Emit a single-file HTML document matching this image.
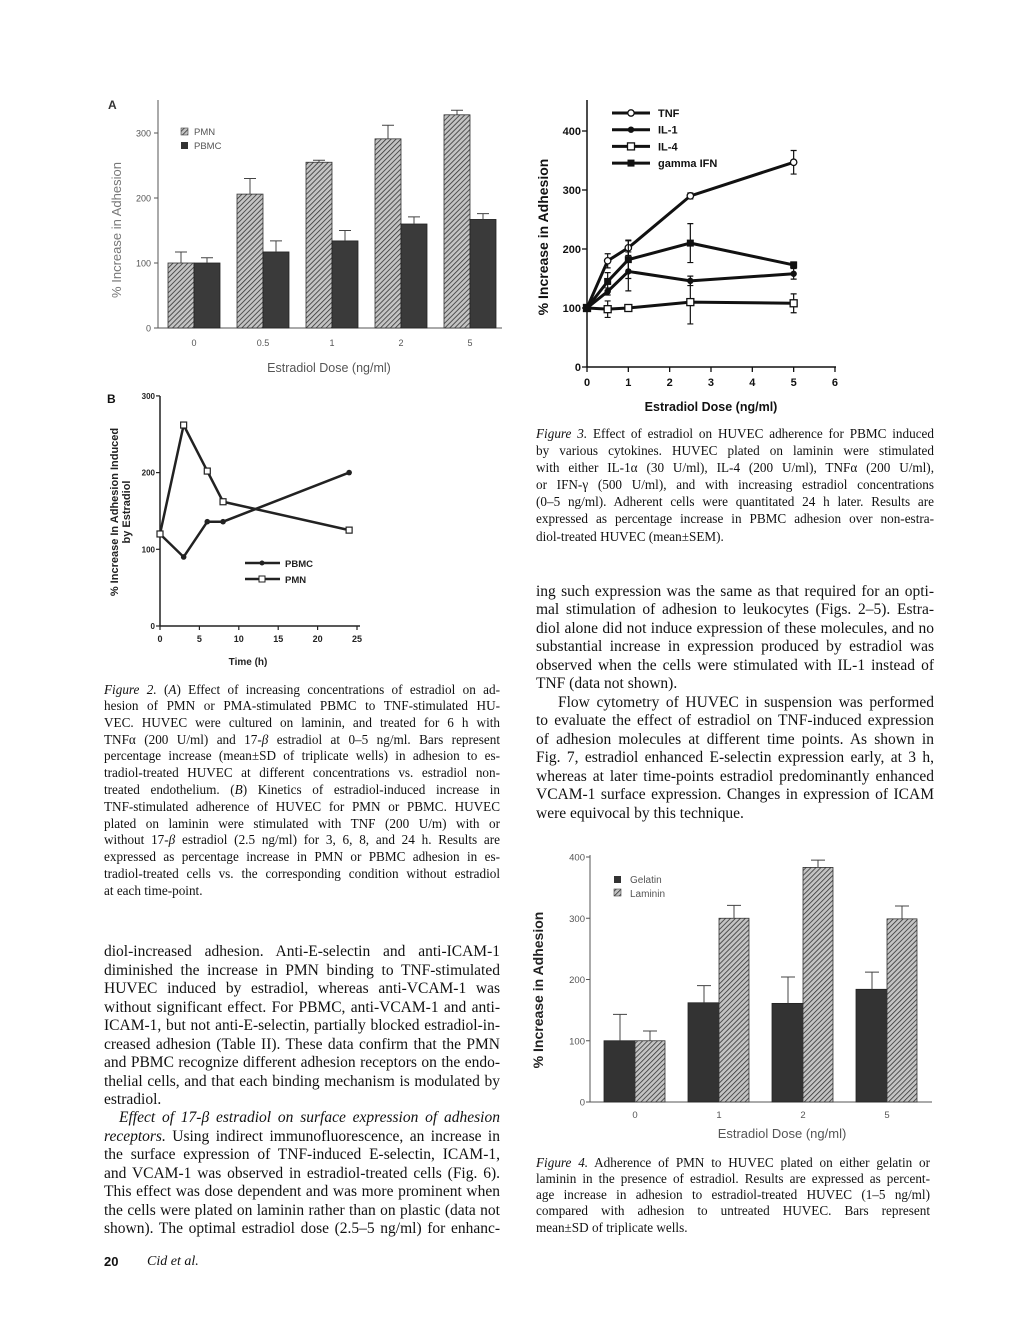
<!DOCTYPE html>
<html><head><meta charset="utf-8">
<style>
html,body{margin:0;padding:0;background:#fff;}
#page{position:relative;width:1020px;height:1320px;overflow:hidden;background:#fff;}
.ln{position:absolute;white-space:nowrap;text-align:justify;text-align-last:justify;color:#111;font-family:"Liberation Serif",serif;}
.body{font-size:15.5px;line-height:18px;height:18px;}
.cap{font-size:13.2px;line-height:16px;height:16px;}
.L{left:104px;width:396px;}
.R{left:536px;width:398px;}
.last{text-align-last:left;}
svg{position:absolute;left:0;top:0;}
svg text{font-family:"Liberation Sans",sans-serif;}
</style></head>
<body><div id="page">
<svg id="charts" width="1020" height="1320">
<defs>
<pattern id="hatch" width="3.5" height="3.5" patternUnits="userSpaceOnUse" patternTransform="rotate(45)">
<rect width="3.5" height="3.5" fill="#c4c4c4"/><line x1="0" y1="0" x2="0" y2="3.5" stroke="#333" stroke-width="1.6"/>
</pattern>
</defs>
<g>
<text x="108" y="109" font-size="12" font-weight="bold" fill="#333">A</text>
<line x1="158" y1="100" x2="158" y2="328" stroke="#555" stroke-width="1"/>
<line x1="158" y1="328" x2="502" y2="328" stroke="#555" stroke-width="1"/>
<text transform="translate(121,230) rotate(-90)" text-anchor="middle" font-size="13" fill="#777">% Increase in Adhesion</text>
<text x="329" y="372" text-anchor="middle" font-size="12.5" fill="#555">Estradiol Dose (ng/ml)</text>
<rect x="181" y="128" width="7" height="7" fill="url(#hatch)" stroke="#444" stroke-width="0.6"/>
<text x="194" y="135" font-size="9.5" fill="#555">PMN</text>
<rect x="181" y="142" width="7" height="7" fill="#333"/>
<text x="194" y="149" font-size="9.5" fill="#555">PBMC</text>
</g>
<g>
<text x="107" y="403" font-size="12" font-weight="bold" fill="#111">B</text>
<line x1="160" y1="396" x2="160" y2="626" stroke="#222" stroke-width="1.5"/>
<line x1="160" y1="626" x2="360" y2="626" stroke="#222" stroke-width="1.5"/>
<text transform="translate(118,512) rotate(-90)" text-anchor="middle" font-size="11" font-weight="bold" fill="#222">% Increase In Adhesion Induced</text>
<text transform="translate(130,512) rotate(-90)" text-anchor="middle" font-size="11" font-weight="bold" fill="#222">by Estradiol</text>
<text x="248" y="665" text-anchor="middle" font-size="10" font-weight="bold" fill="#222">Time (h)</text>
<line x1="245" y1="563" x2="280" y2="563" stroke="#222" stroke-width="2.5"/>
<circle cx="262" cy="563" r="2.5" fill="#222"/>
<text x="285" y="567" font-size="9.5" font-weight="bold" fill="#222">PBMC</text>
<line x1="245" y1="579" x2="280" y2="579" stroke="#222" stroke-width="2.5"/>
<rect x="259" y="576" width="6" height="6" fill="#fff" stroke="#222"/>
<text x="285" y="583" font-size="9.5" font-weight="bold" fill="#222">PMN</text>
</g>
<g>
<line x1="587" y1="100" x2="587" y2="367" stroke="#111" stroke-width="1.5"/>
<line x1="587" y1="367" x2="836" y2="367" stroke="#111" stroke-width="1.5"/>
<text transform="translate(548,237) rotate(-90)" text-anchor="middle" font-size="14" font-weight="bold" fill="#111">% Increase in Adhesion</text>
<text x="711" y="411" text-anchor="middle" font-size="12.5" font-weight="bold" fill="#111">Estradiol Dose (ng/ml)</text>
</g>
<g>
<line x1="590" y1="855" x2="590" y2="1102" stroke="#555" stroke-width="1"/>
<line x1="590" y1="1102" x2="932" y2="1102" stroke="#555" stroke-width="1"/>
<text transform="translate(543,990) rotate(-90)" text-anchor="middle" font-size="14" font-weight="bold" fill="#222">% Increase in Adhesion</text>
<text x="782" y="1138" text-anchor="middle" font-size="13" fill="#555">Estradiol Dose (ng/ml)</text>
<rect x="614" y="876" width="7" height="7" fill="#333"/>
<text x="630" y="883" font-size="10" fill="#555">Gelatin</text>
<rect x="614" y="889" width="7" height="7" fill="url(#hatch)" stroke="#444" stroke-width="0.6"/>
<text x="630" y="897" font-size="10" fill="#555">Laminin</text>
</g>
</svg>

<div class="ln cap L" style="top:682px"><i>Figure 2.</i> (<i>A</i>) Effect of increasing concentrations of estradiol on ad-</div>
<div class="ln cap L" style="top:698px">hesion of PMN or PMA-stimulated PBMC to TNF-stimulated HU-</div>
<div class="ln cap L" style="top:715px">VEC. HUVEC were cultured on laminin, and treated for 6 h with</div>
<div class="ln cap L" style="top:732px">TNFα (200 U/ml) and 17-<i>β</i> estradiol at 0–5 ng/ml. Bars represent</div>
<div class="ln cap L" style="top:748px">percentage increase (mean±SD of triplicate wells) in adhesion to es-</div>
<div class="ln cap L" style="top:765px">tradiol-treated HUVEC at different concentrations vs. estradiol non-</div>
<div class="ln cap L" style="top:782px">treated endothelium. (<i>B</i>) Kinetics of estradiol-induced increase in</div>
<div class="ln cap L" style="top:799px">TNF-stimulated adherence of HUVEC for PMN or PBMC. HUVEC</div>
<div class="ln cap L" style="top:816px">plated on laminin were stimulated with TNF (200 U/m) with or</div>
<div class="ln cap L" style="top:832px">without 17-<i>β</i> estradiol (2.5 ng/ml) for 3, 6, 8, and 24 h. Results are</div>
<div class="ln cap L" style="top:849px">expressed as percentage increase in PMN or PBMC adhesion in es-</div>
<div class="ln cap L" style="top:866px">tradiol-treated cells vs. the corresponding condition without estradiol</div>
<div class="ln cap L last" style="top:883px">at each time-point.</div>

<div class="ln body L" style="top:943px">diol-increased adhesion. Anti-E-selectin and anti-ICAM-1</div>
<div class="ln body L" style="top:962px">diminished the increase in PMN binding to TNF-stimulated</div>
<div class="ln body L" style="top:980px">HUVEC induced by estradiol, whereas anti-VCAM-1 was</div>
<div class="ln body L" style="top:999px">without significant effect. For PBMC, anti-VCAM-1 and anti-</div>
<div class="ln body L" style="top:1017px">ICAM-1, but not anti-E-selectin, partially blocked estradiol-in-</div>
<div class="ln body L" style="top:1036px">creased adhesion (Table II). These data confirm that the PMN</div>
<div class="ln body L" style="top:1054px">and PBMC recognize different adhesion receptors on the endo-</div>
<div class="ln body L" style="top:1073px">thelial cells, and that each binding mechanism is modulated by</div>
<div class="ln body L last" style="top:1091px">estradiol.</div>
<div class="ln body L" style="top:1109px;left:119px;width:381px"><i>Effect of 17-β estradiol on surface expression of adhesion</i></div>
<div class="ln body L" style="top:1128px"><i>receptors.</i> Using indirect immunofluorescence, an increase in</div>
<div class="ln body L" style="top:1146px">the surface expression of TNF-induced E-selectin, ICAM-1,</div>
<div class="ln body L" style="top:1165px">and VCAM-1 was observed in estradiol-treated cells (Fig. 6).</div>
<div class="ln body L" style="top:1183px">This effect was dose dependent and was more prominent when</div>
<div class="ln body L" style="top:1202px">the cells were plated on laminin rather than on plastic (data not</div>
<div class="ln body L" style="top:1220px">shown). The optimal estradiol dose (2.5–5 ng/ml) for enhanc-</div>

<div class="ln body last" style="top:1253px;left:104px;font-family:'Liberation Sans',sans-serif;font-weight:bold;font-size:13px">20</div>
<div class="ln body last" style="top:1253px;left:147px;font-size:14px"><i>Cid et al.</i></div>

<div class="ln cap R" style="top:426px"><i>Figure 3.</i> Effect of estradiol on HUVEC adherence for PBMC induced</div>
<div class="ln cap R" style="top:443px">by various cytokines. HUVEC plated on laminin were stimulated</div>
<div class="ln cap R" style="top:460px">with either IL-1α (30 U/ml), IL-4 (200 U/ml), TNFα (200 U/ml),</div>
<div class="ln cap R" style="top:477px">or IFN-γ (500 U/ml), and with increasing estradiol concentrations</div>
<div class="ln cap R" style="top:494px">(0–5 ng/ml). Adherent cells were quantitated 24 h later. Results are</div>
<div class="ln cap R" style="top:511px">expressed as percentage increase in PBMC adhesion over non-estra-</div>
<div class="ln cap R last" style="top:529px">diol-treated HUVEC (mean±SEM).</div>

<div class="ln body R" style="top:583px">ing such expression was the same as that required for an opti-</div>
<div class="ln body R" style="top:601px">mal stimulation of adhesion to leukocytes (Figs. 2–5). Estra-</div>
<div class="ln body R" style="top:620px">diol alone did not induce expression of these molecules, and no</div>
<div class="ln body R" style="top:638px">substantial increase in expression produced by estradiol was</div>
<div class="ln body R" style="top:657px">observed when the cells were stimulated with IL-1 instead of</div>
<div class="ln body R last" style="top:675px">TNF (data not shown).</div>
<div class="ln body R" style="top:694px;left:558px;width:376px">Flow cytometry of HUVEC in suspension was performed</div>
<div class="ln body R" style="top:712px">to evaluate the effect of estradiol on TNF-induced expression</div>
<div class="ln body R" style="top:731px">of adhesion molecules at different time points. As shown in</div>
<div class="ln body R" style="top:749px">Fig. 7, estradiol enhanced E-selectin expression early, at 3 h,</div>
<div class="ln body R" style="top:768px">whereas at later time-points estradiol predominantly enhanced</div>
<div class="ln body R" style="top:786px">VCAM-1 surface expression. Changes in expression of ICAM</div>
<div class="ln body R last" style="top:805px">were equivocal by this technique.</div>

<div class="ln cap R" style="top:1155px;width:394px"><i>Figure 4.</i> Adherence of PMN to HUVEC plated on either gelatin or</div>
<div class="ln cap R" style="top:1171px;width:394px">laminin in the presence of estradiol. Results are expressed as percent-</div>
<div class="ln cap R" style="top:1187px;width:394px">age increase in adhesion to estradiol-treated HUVEC (1–5 ng/ml)</div>
<div class="ln cap R" style="top:1203px;width:394px">compared with adhesion to untreated HUVEC. Bars represent</div>
<div class="ln cap R last" style="top:1220px">mean±SD of triplicate wells.</div>
</div>

<script>
// ---- Fig 2A data ----
const aCats = ['0','0.5','1','2','5'];
const aPMN = [100,206,255,291,328];
const aPMNerr = [17,24,3,21,7];
const aPBMC = [100,117,134,160,167];
const aPBMCerr = [8,17,16,11,9];
const aYTicks = [0,100,200,300];
// ---- Fig 2B data ----
const bTime = [0,3,6,8,24];
const bPBMC = [120,90,136,136,200];
const bPMN = [120,262,202,162,125];
const bXTicks = [0,5,10,15,20,25];
const bYTicks = [0,100,200,300];
// ---- Fig 3 data ----
const f3Dose = [0,0.5,1,2.5,5];
const f3TNF = [100,180,202,290,347];
const f3TNFerr = [0,12,13,5,20];
const f3IL1 = [100,128,162,146,158];
const f3IL1err = [0,6,33,8,9];
const f3IL4 = [100,98,100,110,108];
const f3IL4err = [0,14,3,37,16];
const f3IFN = [100,145,182,210,173];
const f3IFNerr = [0,15,32,33,5];
const f3XTicks = [0,1,2,3,4,5,6];
const f3YTicks = [0,100,200,300,400];
const f3Names = ['TNF','IL-1','IL-4','gamma IFN'];
// ---- Fig 4 data ----
const dCats = ['0','1','2','5'];
const dGelatin = [100,162,161,184];
const dGelatinErr = [43,28,43,28];
const dLaminin = [100,300,383,299];
const dLamininErr = [16,21,12,21];
const dYTicks = [0,100,200,300,400];

const NS='http://www.w3.org/2000/svg';
const svg=document.getElementById('charts');
function mk(tag,attrs){const e=document.createElementNS(NS,tag);for(const k in attrs)e.setAttribute(k,attrs[k]);svg.appendChild(e);return e;}

const ay=v=>328-v*0.65, ax=i=>194+i*69;
aYTicks.forEach(t=>{
  const l=mk('line',{x1:154,x2:158,y1:ay(t),y2:ay(t),stroke:'#555'});
  
  
  const tx=mk('text',{x:151,y:ay(t)+3.5,'text-anchor':'end','font-size':9,fill:'#555'});
  tx.textContent=t;
  
  
});
aCats.forEach((c,i)=>{
  const x=ax(i);
  const p=mk('rect',{x:x-26,y:ay(aPMN[i]),width:26,height:ay(0)-ay(aPMN[i]),fill:'url(#hatch)',stroke:'#333','stroke-width':0.8});
  
  
  const e1=mk('path',{d:`M${x-13} ${ay(aPMN[i])}V${ay(aPMN[i]+aPMNerr[i])}M${x-19} ${ay(aPMN[i]+aPMNerr[i])}H${x-7}`,stroke:'#444',fill:'none'});
  
  
  const b=mk('rect',{x:x,y:ay(aPBMC[i]),width:26,height:ay(0)-ay(aPBMC[i]),fill:'#3a3a3a',stroke:'#222','stroke-width':0.8});
  
  
  const e2=mk('path',{d:`M${x+13} ${ay(aPBMC[i])}V${ay(aPBMC[i]+aPBMCerr[i])}M${x+7} ${ay(aPBMC[i]+aPBMCerr[i])}H${x+19}`,stroke:'#444',fill:'none'});
  
  
  const tx=mk('text',{x:x,y:346,'text-anchor':'middle','font-size':9,fill:'#555'});
  tx.textContent=c;
  
  
});

const bx=v=>160+v*7.88, by=v=>626-v*0.767;
bXTicks.forEach(t=>{
  const l=mk('line',{x1:bx(t),x2:bx(t),y1:626,y2:630,stroke:'#222','stroke-width':1.2});
  
  
  const tx=mk('text',{x:bx(t),y:642,'text-anchor':'middle','font-size':9,'font-weight':'bold',fill:'#222'});
  tx.textContent=t;
  
  
});
bYTicks.forEach(t=>{
  const l=mk('line',{x1:156,x2:160,y1:by(t),y2:by(t),stroke:'#222','stroke-width':1.2});
  
  
  const tx=mk('text',{x:155,y:by(t)+3,'text-anchor':'end','font-size':8,'font-weight':'bold',fill:'#222'});
  tx.textContent=t;
  
  
});
const lb1=mk('polyline',{points:bTime.map((t,i)=>bx(t)+','+by(bPBMC[i])).join(' '),fill:'none',stroke:'#222','stroke-width':2.5});


const lb2=mk('polyline',{points:bTime.map((t,i)=>bx(t)+','+by(bPMN[i])).join(' '),fill:'none',stroke:'#222','stroke-width':2.5});


bTime.forEach((t,i)=>{
  const c=mk('circle',{cx:bx(t),cy:by(bPBMC[i]),r:2.8,fill:'#222'});
  
  
  const s=mk('rect',{x:bx(t)-3,y:by(bPMN[i])-3,width:6,height:6,fill:'#fff',stroke:'#222','stroke-width':1.2});
  
  
});

const fx=v=>587+v*41.33, fy=v=>367-v*0.59;
f3XTicks.forEach(t=>{
  const l=mk('line',{x1:fx(t),x2:fx(t),y1:367,y2:372,stroke:'#111','stroke-width':1.3});
  
  
  const tx=mk('text',{x:fx(t),y:386,'text-anchor':'middle','font-size':11,'font-weight':'bold',fill:'#111'});
  tx.textContent=t;
  
  
});
f3YTicks.forEach(t=>{
  const l=mk('line',{x1:582,x2:587,y1:fy(t),y2:fy(t),stroke:'#111','stroke-width':1.3});
  
  
  const tx=mk('text',{x:581,y:fy(t)+4,'text-anchor':'end','font-size':11,'font-weight':'bold',fill:'#111'});
  tx.textContent=t;
  
  
});
const f3Series=[[f3TNF,f3TNFerr,'circle-open'],[f3IL1,f3IL1err,'circle-filled'],[f3IL4,f3IL4err,'square-open'],[f3IFN,f3IFNerr,'square-filled']];
function marker(kind,x,y){
  let m;
  if(kind==='circle-open') m=mk('circle',{cx:x,cy:y,r:3.2,fill:'#fff',stroke:'#111','stroke-width':1.3});
  else if(kind==='circle-filled') m=mk('circle',{cx:x,cy:y,r:3.2,fill:'#111'});
  else if(kind==='square-open') m=mk('rect',{x:x-3.5,y:y-3.5,width:7,height:7,fill:'#fff',stroke:'#111','stroke-width':1.3});
  else m=mk('rect',{x:x-3.5,y:y-3.5,width:7,height:7,fill:'#111'});
  return m;
}
f3Series.forEach((s,k)=>{
  const vals=s[0],errs=s[1];
  const pl=mk('polyline',{points:f3Dose.map((d,i)=>fx(d)+','+fy(vals[i])).join(' '),fill:'none',stroke:'#111','stroke-width':3});
  
  
  f3Dose.forEach((d,i)=>{
    if(errs[i]>0){
      const x=fx(d);
      const e=mk('path',{d:`M${x} ${fy(vals[i]-errs[i])}V${fy(vals[i]+errs[i])}M${x-3} ${fy(vals[i]-errs[i])}h6M${x-3} ${fy(vals[i]+errs[i])}h6`,stroke:'#111','stroke-width':1.2,fill:'none'});
      
      
    }
    const m=marker(s[2],fx(d),fy(vals[i]));
    
    
  });
  const ly=113+k*16.7;
  const ll=mk('line',{x1:612,x2:650,y1:ly,y2:ly,stroke:'#111','stroke-width':3});
  
  
  const lm=marker(s[2],631,ly);
  
  
  const lt=mk('text',{x:658,y:ly+4,'font-size':11,'font-weight':'bold',fill:'#111'});
  lt.textContent=f3Names[k];
  
  
});

const dy=v=>1102-v*0.6125, dx=i=>635+i*84;
dYTicks.forEach(t=>{
  const l=mk('line',{x1:586,x2:590,y1:dy(t),y2:dy(t),stroke:'#555'});
  
  
  const tx=mk('text',{x:585,y:dy(t)+3.5,'text-anchor':'end','font-size':9.5,fill:'#555'});
  tx.textContent=t;
  
  
});
dCats.forEach((c,i)=>{
  const x=dx(i);
  const g=mk('rect',{x:x-31,y:dy(dGelatin[i]),width:31,height:dy(0)-dy(dGelatin[i]),fill:'#333',stroke:'#222','stroke-width':0.8});
  
  
  const e1=mk('path',{d:`M${x-15} ${dy(dGelatin[i])}V${dy(dGelatin[i]+dGelatinErr[i])}M${x-22} ${dy(dGelatin[i]+dGelatinErr[i])}H${x-8}`,stroke:'#444',fill:'none'});
  
  
  const l=mk('rect',{x:x,y:dy(dLaminin[i]),width:30,height:dy(0)-dy(dLaminin[i]),fill:'url(#hatch)',stroke:'#333','stroke-width':0.8});
  
  
  const e2=mk('path',{d:`M${x+15} ${dy(dLaminin[i])}V${dy(dLaminin[i]+dLamininErr[i])}M${x+8} ${dy(dLaminin[i]+dLamininErr[i])}H${x+22}`,stroke:'#444',fill:'none'});
  
  
  const tx=mk('text',{x:x,y:1118,'text-anchor':'middle','font-size':9.5,fill:'#555'});
  tx.textContent=c;
  
  
});
</script>
</body></html>
